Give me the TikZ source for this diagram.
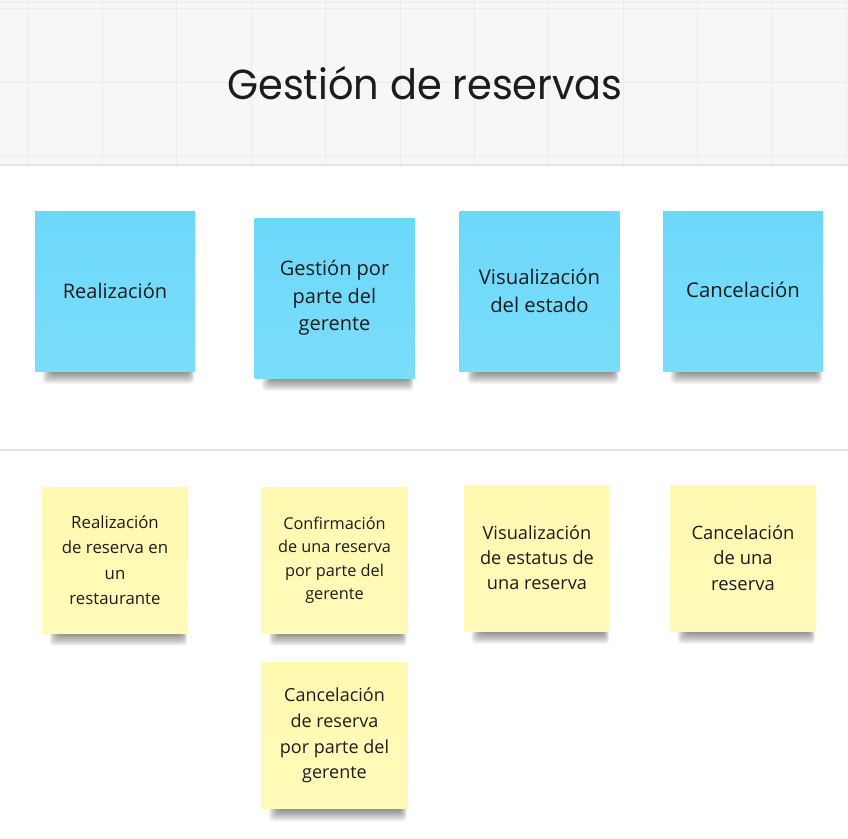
\documentclass[tikz,border=0pt]{standalone}
\usepackage{fontspec}
\setmainfont{Open Sans}
\newfontfamily\titlefont{Poppins}
\usetikzlibrary{calc}
\pgfdeclarelayer{bglayer}
\pgfdeclarelayer{shadowlayer}
\pgfsetlayers{bglayer,shadowlayer,main}
\definecolor{stickyblue}{HTML}{6CD8FA}
\definecolor{stickybluelt}{HTML}{7ADDFA}
\definecolor{stickyyellow}{HTML}{FFF9B1}
\definecolor{stickyyellowlt}{HTML}{FFFAB8}
\definecolor{headbg}{HTML}{F7F7F7}
\definecolor{gridc}{HTML}{ECECEC}
\definecolor{borderc}{HTML}{E4E4E4}
\definecolor{inkc}{HTML}{1C1C1C}
\tikzset{
  note/.style={inner sep=0pt, align=center, text=inkc},
  bluenote/.style={note, top color=stickyblue, bottom color=stickybluelt,
    minimum width=160pt, minimum height=160pt},
  yellownote/.style={note, top color=stickyyellow, bottom color=stickyyellowlt,
    minimum width=146pt, minimum height=146pt},
  gridline/.style={draw=gridc, line width=0.8pt},
  sepline/.style={draw=borderc, line width=1.5pt},
  shadowpiece/.style={fill=black, opacity=0.035, rounded corners=4pt},
}
\begin{document}
\begin{tikzpicture}[x=1pt,y=-1pt]
\useasboundingbox (0,0) rectangle (848,838);
\begin{pgfonlayer}{bglayer}
\fill[white] (0,0) rectangle (848,838);
% header band
\fill[headbg] (0,0) rectangle (848,165);
\foreach \gx in {0,...,11} {
  \draw[gridline] ({28+74.4*\gx},0) -- ({28+74.4*\gx},165);
}
\foreach \gy in {2,8,82,156} {
  \draw[gridline] (0,\gy) -- (848,\gy);
}
\draw[sepline] (0,165) -- (848,165);
\draw[sepline] (0,450) -- (848,450);
\end{pgfonlayer}
% title
\node[anchor=base, text=inkc, inner sep=0pt, xscale=0.95] (title) at (425,99)
  {\titlefont\fontsize{42}{50}\selectfont Gestión de reservas};
% blue stickies
\node[bluenote, font=\fontsize{20}{27.5}\selectfont] (b1) at (115,291) {Realización};
\node[bluenote, font=\fontsize{20}{27.5}\selectfont] (b2) at (334.5,298) {Gestión por\\parte del\\gerente};
\node[bluenote, font=\fontsize{20.3}{28}\selectfont] (b3) at (539.5,291) {\raisebox{2pt}{\parbox{150pt}{\centering Visualización\\del estado}}};
\node[bluenote, font=\fontsize{20.3}{27.5}\selectfont] (b4) at (743,291) {\raisebox{2pt}{Cancelación}};
% yellow stickies
\node[yellownote, font=\fontsize{16.8}{25.5}\selectfont] (y1) at (115,560) {Realización\\de reserva en\\un\\restaurante};
\node[yellownote, font=\fontsize{16.3}{23.5}\selectfont] (y2) at (334.5,560) {Confirmación\\de una reserva\\por parte del\\gerente};
\node[yellownote, font=\fontsize{18.2}{25}\selectfont] (y3) at (537,558) {Visualización\\de estatus de\\una reserva};
\node[yellownote, font=\fontsize{18.4}{25.5}\selectfont] (y4) at (743,558) {Cancelación\\de una\\reserva};
\node[yellownote, font=\fontsize{18}{25.7}\selectfont] (y5) at (334.5,735.5) {Cancelación\\de reserva\\por parte del\\gerente};
% shadows under the notes
\begin{pgfonlayer}{shadowlayer}
\foreach \n in {b1,b2,b3,b4,y1,y2,y3,y4,y5} {
  \foreach \k in {0,...,15} {
    \fill[shadowpiece] ($(\n.south west)+({18-0.7*\k},-8)$) rectangle ($(\n.south east)+({-7+0.4*\k},{0+0.85*\k})$);
  }
}
\end{pgfonlayer}
\end{tikzpicture}
\end{document}
